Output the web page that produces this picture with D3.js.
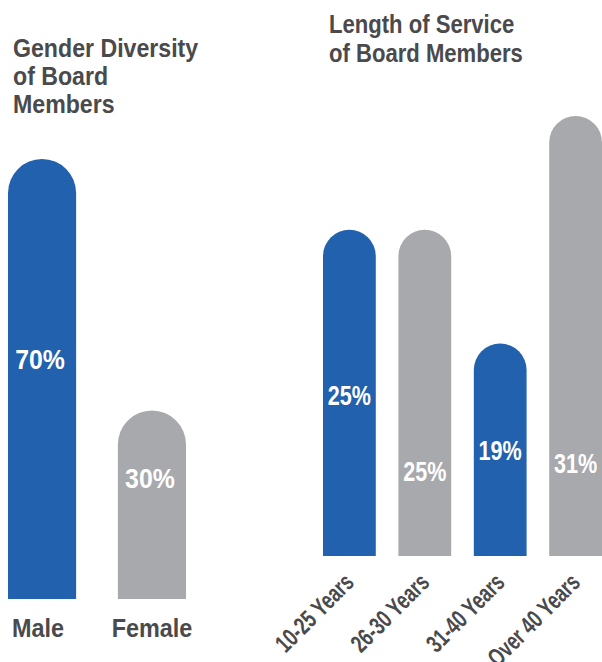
<!DOCTYPE html>
<html>
<head>
<meta charset="utf-8">
<script src="https://cdn.jsdelivr.net/npm/d3@7"></script>
<style>
  body { margin: 0; background: #fff; }
  text { font-family: "Liberation Sans", Arial, sans-serif; font-weight: bold; }
</style>
</head>
<body>
<script>
// gender panel
const genders = ['Male', 'Female'];
const genderPct = [70, 30];
const genderTitle = ['Gender Diversity', 'of Board', 'Members'];

// service panel
const serviceCats = ['10-25 Years', '26-30 Years', '31-40 Years', 'Over 40 Years'];
const servicePct = [25, 25, 19, 31];
const serviceTitle = ['Length of Service', 'of Board Members'];

const blue = '#2161ae';
const grey = '#a8a9ad';
const ink = '#4a4a4c';

const svg = d3.select('body').append('svg').attr('width', 602).attr('height', 662);

// bar with round top (half circle)
function pillPath(x, w, yTop, yBot) {
    const r = w / 2;
    return `M${x},${yBot}V${yTop + r}A${r},${r} 0 0 1 ${x + w},${yTop + r}V${yBot}Z`;
}

//---- left panel
const gx = d3.scaleBand().domain(genders).range([8, 186]).paddingInner(0.38);
const gy = d3.scaleLinear().domain([0, 70]).range([599, 159]);
const gRise = [230, 111]; // label height above base

const gl = svg.append('g');
gl.selectAll('text.title').data(genderTitle).enter().append('text')
    .attr('class', 'title')
    .attr('transform', (d, i) => `translate(13,${57 + i * 28}) scale(0.89,1)`)
    .attr('font-size', 26).attr('fill', ink)
    .text(d => d);

gl.selectAll('path').data(genders).enter().append('path')
    .attr('d', (d, i) => pillPath(gx(d), gx.bandwidth(), gy(genderPct[i]), gy(0)))
    .attr('fill', (d, i) => i % 2 ? grey : blue);

gl.selectAll('text.val').data(genders).enter().append('text')
    .attr('class', 'val')
    .attr('transform', (d, i) => `translate(${gx(d) + gx.bandwidth() / 2 - 2},${gy(0) - gRise[i]}) scale(0.92,1)`)
    .attr('text-anchor', 'middle').attr('font-size', 27).attr('fill', '#fff')
    .text((d, i) => genderPct[i] + '%');

gl.selectAll('text.cat').data(genders).enter().append('text')
    .attr('class', 'cat')
    .attr('transform', (d, i) => `translate(${gx(d) + gx.bandwidth() / 2 - (i ? 0 : 4)},637) scale(0.9,1)`)
    .attr('text-anchor', 'middle').attr('font-size', 26).attr('fill', ink)
    .text(d => d);

//---- right panel
const sx = d3.scaleBand().domain(serviceCats).range([323, 602]).paddingInner(0.3);
const sy = d3.scaleLinear().domain([7.8, 31]).range([556, 116]);
const sRise = [151, 75, 96, 83];

const sr = svg.append('g');
sr.selectAll('text.title').data(serviceTitle).enter().append('text')
    .attr('class', 'title')
    .attr('transform', (d, i) => `translate(329,${33 + i * 29}) scale(0.85,1)`)
    .attr('font-size', 26).attr('fill', ink)
    .text(d => d);

sr.selectAll('path').data(serviceCats).enter().append('path')
    .attr('d', (d, i) => pillPath(sx(d), sx.bandwidth(), sy(servicePct[i]), sy.range()[0]))
    .attr('fill', (d, i) => i % 2 ? grey : blue);

sr.selectAll('text.val').data(serviceCats).enter().append('text')
    .attr('class', 'val')
    .attr('transform', (d, i) => `translate(${sx(d) + sx.bandwidth() / 2},${sy.range()[0] - sRise[i]}) scale(0.8,1)`)
    .attr('text-anchor', 'middle').attr('font-size', 27).attr('fill', '#fff')
    .text((d, i) => servicePct[i] + '%');

sr.selectAll('text.cat').data(serviceCats).enter().append('text')
    .attr('class', 'cat')
    .attr('transform', d => `translate(${sx(d) + sx.bandwidth() / 2 + 6},584) rotate(-45) scale(0.72,1)`)
    .attr('text-anchor', 'end').attr('font-size', 25).attr('fill', ink)
    .text(d => d);
</script>
</body>
</html>
